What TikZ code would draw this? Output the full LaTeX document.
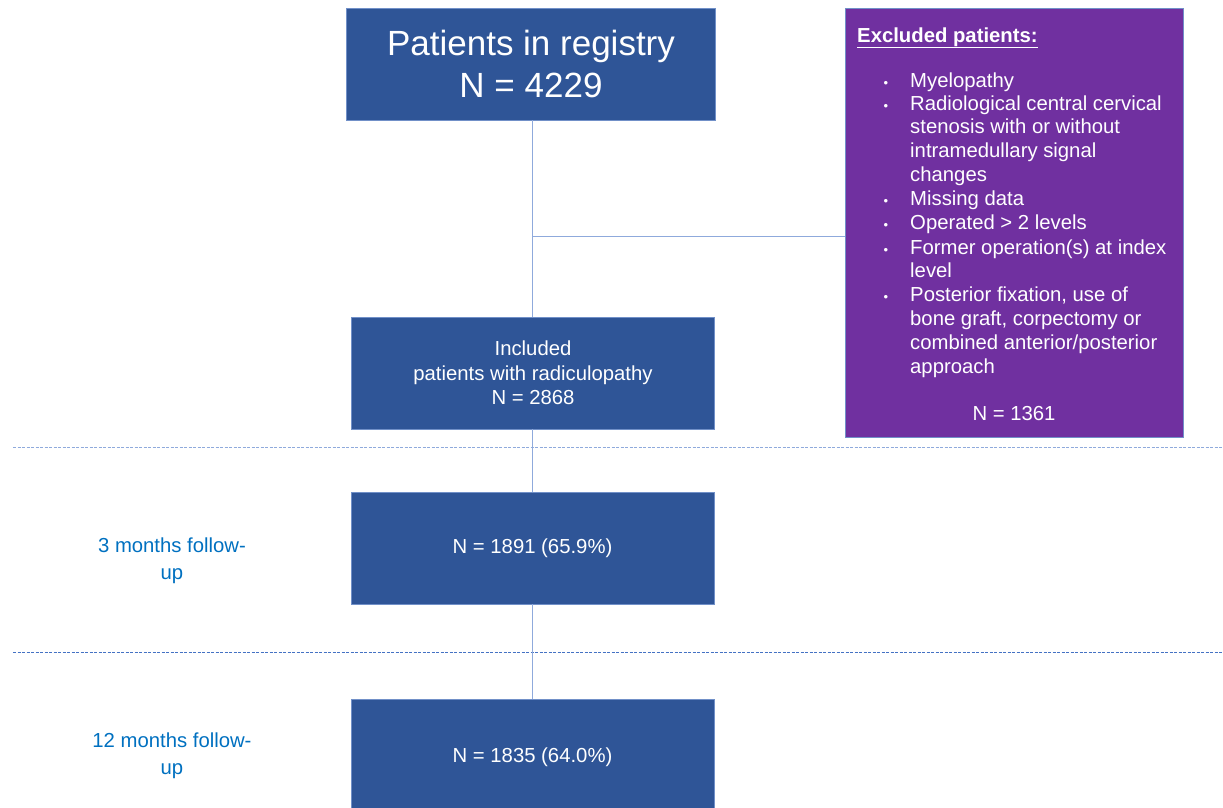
\documentclass[tikz,border=0pt]{standalone}
\usepackage{fontspec}
\setmainfont{Liberation Sans}
\definecolor{boxblue}{HTML}{2F5597}
\definecolor{boxedge}{HTML}{7190C8}
\definecolor{purp}{HTML}{7030A0}
\definecolor{connc}{HTML}{8FAADC}
\definecolor{dashA}{HTML}{8FAADC}
\definecolor{dashB}{HTML}{4472C4}
\definecolor{lblc}{HTML}{0070C0}
\begin{document}
\begin{tikzpicture}[x=1pt,y=-1pt,
  bluebox/.style={rectangle, fill=boxblue, draw=boxedge, line width=0.8pt, text=white,
    minimum width=363pt, minimum height=112pt, inner sep=0pt, align=center,
    font=\fontsize{20.3}{24.3}\selectfont},
  exclbox/.style={rectangle, fill=purp, draw=boxedge, line width=0.8pt,
    minimum width=338pt, minimum height=429pt, inner sep=0pt},
  itemtxt/.style={anchor=base west, inner sep=0pt, text=white, font=\fontsize{20.3}{24}\selectfont},
  bul/.style={anchor=base, inner sep=0pt, text=white, font=\fontsize{13}{24}\selectfont},
  conn/.style={draw=connc, line width=1pt},
  sepA/.style={draw=dashA, line width=1pt, dash pattern=on 3pt off 1.5pt},
  sepB/.style={draw=dashB, line width=1pt, dash pattern=on 3pt off 1.5pt},
  lbl/.style={align=center, text=lblc, inner sep=0pt, font=\fontsize{20.3}{27}\selectfont}]
\useasboundingbox (0,0) rectangle (1223,807);

% main boxes
\node[bluebox, minimum width=369pt, font=\fontsize{35}{42}\selectfont] (box1) at (531,64) {Patients in registry\\N = 4229};
\node[bluebox] (box2) at (533,373) {Included\\patients with radiculopathy\\N = 2868};
\node[bluebox] (box3) at (532.5,548) {N = 1891 (65.9\%)};
\node[bluebox, minimum height=116pt] (box4) at (532.5,757) {N = 1835 (64.0\%)};

% excluded box
\node[exclbox] (excl) at (1014,222.5) {};
\node[itemtxt, font=\bfseries\fontsize{20.3}{24}\selectfont] (exh) at (857,42) {\underline{Excluded patients:}};
\foreach \yy/\bb/\txt [count=\i] in {
  87/1/Myelopathy,
  110/1/{Radiological central cervical},
  133/0/{stenosis with or without},
  157/0/{intramedullary signal},
  181/0/changes,
  205/1/{Missing data},
  229/1/{Operated > 2 levels},
  254/1/{Former operation(s) at index},
  277/0/level,
  301/1/{Posterior fixation, use of},
  325/0/{bone graft, corpectomy or},
  349/0/{combined anterior/posterior},
  373/0/approach}
{
  \node[itemtxt] (it\i) at (910,\yy) {\txt};
  \ifnum\bb=1 \node[bul] (bu\i) at (886,\yy) {•};\fi
}
\node[anchor=base, inner sep=0pt, text=white, font=\fontsize{20.3}{24}\selectfont] (n1361) at (1014,420) {N = 1361};

% separators
\coordinate (sa1) at (13,447);
\coordinate (sa2) at (1223,447);
\coordinate (sb1) at (13,652);
\coordinate (sb2) at (1223,652);
\draw[sepA] (sa1) -- (sa2);
\draw[sepB] (sb1) -- (sb2);

% connectors
\coordinate (c1) at (532,120);
\coordinate (c2) at (532,317);
\draw[conn] (c1) -- (c2);
\coordinate (jn) at (532,236);
\draw[conn] (jn) -- (jn -| excl.west);
\draw[conn] (box2.south -| c1) -- (box3.north -| c1);
\draw[conn] (box3.south -| c1) -- (box4.north -| c1);

% follow-up labels
\node[lbl] (l3) at (172,561) {3 months follow-\\up};
\node[lbl] (l12) at (172,756) {12 months follow-\\up};
\end{tikzpicture}
\end{document}
